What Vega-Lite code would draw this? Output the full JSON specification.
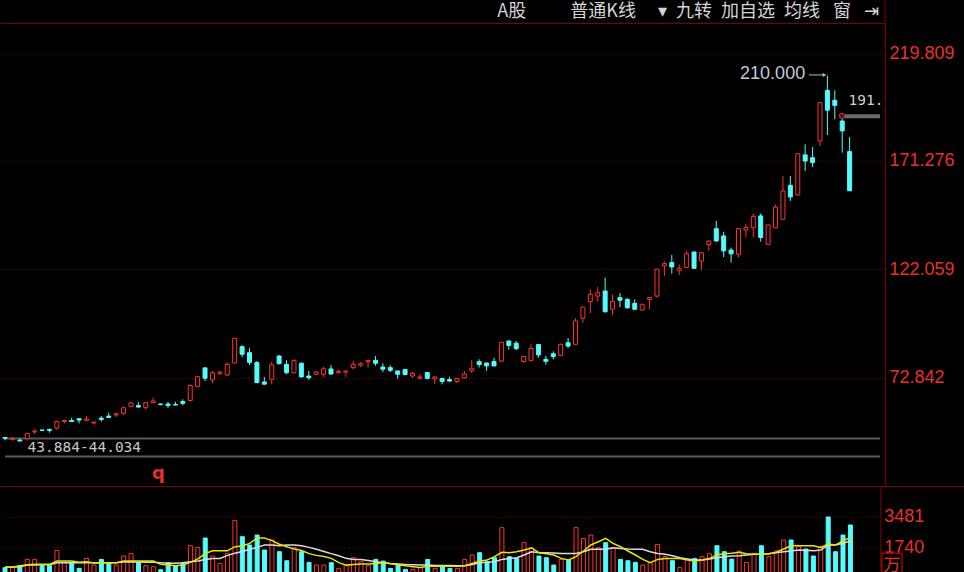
{
  "$schema": "https://vega.github.io/schema/vega-lite/v6.json",
  "background": "#000000",
  "padding": 0,
  "spacing": 0,
  "bounds": "flush",
  "config": {"view": {"stroke": null}, "concat": {"spacing": 0}},
  "datasets": {
    "k": [
      {"i":0,"s":"dn","o":45.7,"h":45.9,"l":44.4,"c":45.3,"v":592,"a":620,"b":630},
      {"i":1,"s":"up","o":44.9,"h":45.9,"l":44.2,"c":45.2,"v":592,"a":620,"b":630},
      {"i":2,"s":"dn","o":44.5,"h":45.3,"l":43.9,"c":44.1,"v":707,"a":700,"b":650},
      {"i":3,"s":"up","o":45.2,"h":47.7,"l":44.9,"c":47.5,"v":1069,"a":760,"b":740},
      {"i":4,"s":"up","o":48.2,"h":49.4,"l":47.4,"c":48.6,"v":1069,"a":783,"b":740},
      {"i":5,"s":"dn","o":49.1,"h":49.2,"l":48.8,"c":48.9,"v":707,"a":783,"b":760},
      {"i":6,"s":"dn","o":49.4,"h":49.5,"l":47.9,"c":48.9,"v":707,"a":783,"b":760},
      {"i":7,"s":"up","o":49.9,"h":53.4,"l":49.3,"c":52.9,"v":1586,"a":977,"b":880},
      {"i":8,"s":"up","o":53.0,"h":53.5,"l":52.1,"c":53.4,"v":897,"a":977,"b":880},
      {"i":9,"s":"dn","o":53.4,"h":54.7,"l":52.8,"c":52.9,"v":897,"a":977,"b":880},
      {"i":10,"s":"dn","o":54.2,"h":54.3,"l":52.1,"c":53.6,"v":552,"a":900,"b":880},
      {"i":11,"s":"up","o":53.5,"h":55.5,"l":53.4,"c":54.1,"v":1126,"a":937,"b":880},
      {"i":12,"s":"up","o":52.3,"h":52.8,"l":51.6,"c":52.7,"v":747,"a":860,"b":880},
      {"i":13,"s":"dn","o":54.5,"h":55.5,"l":52.9,"c":53.9,"v":1069,"a":880,"b":880},
      {"i":14,"s":"dn","o":55.4,"h":57.0,"l":54.7,"c":54.8,"v":880,"a":880,"b":880},
      {"i":15,"s":"up","o":55.9,"h":56.6,"l":55.0,"c":56.5,"v":747,"a":880,"b":880},
      {"i":16,"s":"up","o":56.7,"h":59.7,"l":55.8,"c":59.2,"v":1264,"a":977,"b":920},
      {"i":17,"s":"up","o":59.7,"h":61.5,"l":59.5,"c":61.4,"v":1414,"a":977,"b":937},
      {"i":18,"s":"dn","o":60.2,"h":61.8,"l":59.4,"c":59.5,"v":880,"a":977,"b":920},
      {"i":19,"s":"up","o":59.2,"h":61.6,"l":58.5,"c":61.5,"v":707,"a":977,"b":900},
      {"i":20,"s":"up","o":61.5,"h":63.8,"l":61.4,"c":62.3,"v":649,"a":977,"b":900},
      {"i":21,"s":"dn","o":60.9,"h":61.0,"l":60.3,"c":60.7,"v":477,"a":783,"b":880},
      {"i":22,"s":"dn","o":60.9,"h":61.8,"l":59.0,"c":60.2,"v":880,"a":740,"b":850},
      {"i":23,"s":"dn","o":60.7,"h":61.9,"l":60.3,"c":60.45,"v":707,"a":707,"b":850},
      {"i":24,"s":"dn","o":62.0,"h":63.0,"l":60.3,"c":61.2,"v":880,"a":740,"b":880},
      {"i":25,"s":"up","o":62.5,"h":69.8,"l":62.1,"c":69.3,"v":1856,"a":900,"b":940},
      {"i":26,"s":"up","o":68.9,"h":73.6,"l":68.7,"c":73.3,"v":1758,"a":1100,"b":977},
      {"i":27,"s":"dn","o":77.3,"h":77.5,"l":71.3,"c":72.6,"v":2298,"a":1400,"b":1069},
      {"i":28,"s":"up","o":71.8,"h":75.9,"l":70.4,"c":75.1,"v":1264,"a":1560,"b":1126},
      {"i":29,"s":"up","o":74.7,"h":75.9,"l":74.1,"c":75.4,"v":839,"a":1560,"b":1126},
      {"i":30,"s":"up","o":74.1,"h":79.7,"l":73.6,"c":78.9,"v":1414,"a":1560,"b":1300},
      {"i":31,"s":"up","o":79.5,"h":90.9,"l":79.3,"c":90.7,"v":3310,"a":1800,"b":1420},
      {"i":32,"s":"dn","o":86.9,"h":87.7,"l":82.2,"c":83.5,"v":2373,"a":1840,"b":1520},
      {"i":33,"s":"dn","o":84.2,"h":86.2,"l":78.6,"c":79.8,"v":1896,"a":1990,"b":1650},
      {"i":34,"s":"dn","o":79.7,"h":80.4,"l":70.3,"c":70.6,"v":2471,"a":2300,"b":1760},
      {"i":35,"s":"dn","o":70.9,"h":73.2,"l":69.7,"c":69.9,"v":1609,"a":2300,"b":1890},
      {"i":36,"s":"up","o":72.1,"h":80.0,"l":69.9,"c":78.7,"v":2183,"a":2150,"b":1890},
      {"i":37,"s":"dn","o":82.7,"h":83.2,"l":78.9,"c":79.2,"v":1511,"a":1940,"b":1850},
      {"i":38,"s":"dn","o":78.9,"h":80.7,"l":74.4,"c":75.1,"v":994,"a":1800,"b":1890},
      {"i":39,"s":"up","o":75.1,"h":81.2,"l":74.8,"c":80.7,"v":1741,"a":1660,"b":1890},
      {"i":40,"s":"dn","o":79.4,"h":79.8,"l":72.9,"c":73.2,"v":1511,"a":1580,"b":1850},
      {"i":41,"s":"dn","o":73.6,"h":75.9,"l":71.9,"c":72.8,"v":897,"a":1400,"b":1760},
      {"i":42,"s":"up","o":74.4,"h":75.9,"l":74.1,"c":75.4,"v":747,"a":1300,"b":1650},
      {"i":43,"s":"up","o":74.4,"h":77.7,"l":73.2,"c":76.9,"v":747,"a":1240,"b":1520},
      {"i":44,"s":"dn","o":76.8,"h":78.6,"l":74.3,"c":74.5,"v":880,"a":1130,"b":1400},
      {"i":45,"s":"up","o":75.1,"h":76.5,"l":75.0,"c":75.7,"v":552,"a":880,"b":1280},
      {"i":46,"s":"up","o":75.4,"h":76.0,"l":73.2,"c":75.9,"v":747,"a":740,"b":1130},
      {"i":47,"s":"up","o":77.4,"h":80.4,"l":76.7,"c":78.9,"v":1166,"a":780,"b":1069},
      {"i":48,"s":"up","o":78.5,"h":79.9,"l":77.7,"c":79.2,"v":936,"a":800,"b":1069},
      {"i":49,"s":"up","o":80.1,"h":80.9,"l":77.4,"c":80.7,"v":707,"a":800,"b":1000},
      {"i":50,"s":"dn","o":80.7,"h":82.7,"l":78.2,"c":79.4,"v":1069,"a":840,"b":940},
      {"i":51,"s":"dn","o":77.7,"h":79.4,"l":75.4,"c":76.7,"v":974,"a":870,"b":880},
      {"i":52,"s":"dn","o":77.4,"h":78.5,"l":75.4,"c":76.2,"v":552,"a":820,"b":840},
      {"i":53,"s":"dn","o":75.9,"h":76.0,"l":72.4,"c":74.4,"v":747,"a":760,"b":810},
      {"i":54,"s":"dn","o":76.6,"h":76.8,"l":73.8,"c":74.3,"v":496,"a":700,"b":780},
      {"i":55,"s":"up","o":73.6,"h":75.4,"l":72.8,"c":74.8,"v":496,"a":650,"b":760},
      {"i":56,"s":"up","o":72.6,"h":74.4,"l":72.4,"c":73.2,"v":592,"a":600,"b":740},
      {"i":57,"s":"dn","o":75.2,"h":75.4,"l":72.1,"c":72.5,"v":1069,"a":680,"b":740},
      {"i":58,"s":"up","o":72.4,"h":73.3,"l":69.9,"c":73.2,"v":552,"a":680,"b":720},
      {"i":59,"s":"dn","o":72.5,"h":72.6,"l":69.8,"c":71.1,"v":630,"a":680,"b":720},
      {"i":60,"s":"dn","o":72.0,"h":73.2,"l":71.1,"c":71.3,"v":552,"a":680,"b":720},
      {"i":61,"s":"up","o":71.2,"h":72.6,"l":70.4,"c":72.5,"v":552,"a":680,"b":700},
      {"i":62,"s":"up","o":72.7,"h":75.9,"l":72.5,"c":74.5,"v":1069,"a":700,"b":700},
      {"i":63,"s":"up","o":75.9,"h":80.7,"l":75.1,"c":76.9,"v":1322,"a":840,"b":780},
      {"i":64,"s":"dn","o":80.1,"h":81.2,"l":77.5,"c":78.8,"v":1454,"a":977,"b":880},
      {"i":65,"s":"dn","o":79.5,"h":79.7,"l":75.9,"c":78.2,"v":937,"a":1034,"b":900},
      {"i":66,"s":"dn","o":80.2,"h":81.9,"l":77.9,"c":78.2,"v":1166,"a":1224,"b":937},
      {"i":67,"s":"up","o":80.4,"h":89.1,"l":80.0,"c":88.9,"v":2890,"a":1480,"b":1069},
      {"i":68,"s":"dn","o":89.5,"h":89.7,"l":85.6,"c":87.5,"v":1224,"a":1454,"b":1126},
      {"i":69,"s":"dn","o":88.5,"h":89.5,"l":85.4,"c":86.0,"v":1126,"a":1511,"b":1165},
      {"i":70,"s":"up","o":80.2,"h":82.7,"l":79.7,"c":82.5,"v":2028,"a":1610,"b":1322},
      {"i":71,"s":"up","o":80.7,"h":88.0,"l":80.5,"c":86.1,"v":1701,"a":1741,"b":1511},
      {"i":72,"s":"dn","o":87.9,"h":88.1,"l":81.9,"c":83.2,"v":1264,"a":1454,"b":1454},
      {"i":73,"s":"dn","o":81.2,"h":82.7,"l":78.7,"c":80.3,"v":1166,"a":1396,"b":1454},
      {"i":74,"s":"dn","o":83.7,"h":84.8,"l":81.2,"c":82.4,"v":747,"a":1322,"b":1435},
      {"i":75,"s":"up","o":83.0,"h":88.2,"l":82.8,"c":88.0,"v":1069,"a":1126,"b":1414},
      {"i":76,"s":"dn","o":88.7,"h":90.9,"l":86.3,"c":87.2,"v":1034,"a":1034,"b":1414},
      {"i":77,"s":"up","o":88.0,"h":99.8,"l":87.8,"c":98.6,"v":2890,"a":1224,"b":1414},
      {"i":78,"s":"up","o":99.8,"h":105.1,"l":97.8,"c":104.9,"v":2275,"a":1551,"b":1511},
      {"i":79,"s":"up","o":107.4,"h":113.0,"l":102.1,"c":110.7,"v":2471,"a":1896,"b":1646},
      {"i":80,"s":"up","o":109.9,"h":114.0,"l":107.4,"c":111.4,"v":1741,"a":2086,"b":1646},
      {"i":81,"s":"dn","o":112.2,"h":118.3,"l":102.4,"c":102.8,"v":2028,"a":2275,"b":1646},
      {"i":82,"s":"up","o":103.9,"h":110.7,"l":101.3,"c":107.4,"v":1741,"a":1988,"b":1741},
      {"i":83,"s":"dn","o":109.2,"h":111.3,"l":104.9,"c":108.0,"v":1069,"a":1798,"b":1700},
      {"i":84,"s":"dn","o":108.4,"h":109.0,"l":104.1,"c":104.6,"v":994,"a":1551,"b":1666},
      {"i":85,"s":"dn","o":106.6,"h":108.4,"l":103.6,"c":103.9,"v":897,"a":1322,"b":1646},
      {"i":86,"s":"up","o":103.6,"h":106.4,"l":103.4,"c":106.2,"v":747,"a":1069,"b":1646},
      {"i":87,"s":"up","o":108.4,"h":109.3,"l":103.9,"c":109.2,"v":880,"a":879,"b":1511},
      {"i":88,"s":"up","o":109.9,"h":122.2,"l":109.2,"c":122.1,"v":1931,"a":1069,"b":1414},
      {"i":89,"s":"up","o":123.6,"h":125.5,"l":119.0,"c":124.6,"v":1224,"a":1126,"b":1360},
      {"i":90,"s":"dn","o":125.1,"h":128.6,"l":120.1,"c":123.1,"v":994,"a":1126,"b":1284},
      {"i":91,"s":"up","o":121.6,"h":124.3,"l":119.5,"c":122.5,"v":610,"a":1126,"b":1165},
      {"i":92,"s":"up","o":122.9,"h":130.4,"l":122.7,"c":129.1,"v":1088,"a":1034,"b":1088},
      {"i":93,"s":"dn","o":129.9,"h":130.1,"l":122.3,"c":122.5,"v":1126,"a":977,"b":1034},
      {"i":94,"s":"up","o":125.8,"h":129.8,"l":121.6,"c":129.6,"v":1224,"a":1034,"b":1034},
      {"i":95,"s":"up","o":133.3,"h":135.1,"l":130.4,"c":134.9,"v":1396,"a":1126,"b":1088},
      {"i":96,"s":"dn","o":140.5,"h":144.0,"l":134.6,"c":134.9,"v":1856,"a":1322,"b":1165},
      {"i":97,"s":"dn","o":137.2,"h":139.1,"l":127.6,"c":130.4,"v":1511,"a":1396,"b":1224},
      {"i":98,"s":"dn","o":130.8,"h":131.9,"l":125.1,"c":129.1,"v":1088,"a":1420,"b":1264},
      {"i":99,"s":"up","o":128.9,"h":140.7,"l":127.6,"c":140.5,"v":1551,"a":1480,"b":1284},
      {"i":100,"s":"up","o":139.9,"h":142.8,"l":136.5,"c":141.0,"v":897,"a":1396,"b":1322},
      {"i":101,"s":"up","o":140.9,"h":147.4,"l":136.6,"c":146.1,"v":1414,"a":1360,"b":1360},
      {"i":102,"s":"dn","o":146.3,"h":147.4,"l":134.6,"c":136.5,"v":1856,"a":1360,"b":1380},
      {"i":103,"s":"up","o":133.4,"h":142.4,"l":133.2,"c":142.2,"v":1224,"a":1396,"b":1396},
      {"i":104,"s":"up","o":140.9,"h":151.3,"l":140.7,"c":150.3,"v":1551,"a":1480,"b":1454},
      {"i":105,"s":"up","o":144.8,"h":164.4,"l":144.5,"c":157.6,"v":2183,"a":1666,"b":1511},
      {"i":106,"s":"dn","o":160.2,"h":164.4,"l":153.1,"c":154.9,"v":2183,"a":1856,"b":1551},
      {"i":107,"s":"up","o":155.8,"h":174.7,"l":155.6,"c":174.5,"v":1798,"a":1856,"b":1610},
      {"i":108,"s":"dn","o":174.0,"h":178.8,"l":166.7,"c":171.2,"v":1666,"a":1856,"b":1590},
      {"i":109,"s":"dn","o":172.7,"h":177.6,"l":168.5,"c":170.5,"v":1264,"a":1856,"b":1570},
      {"i":110,"s":"up","o":180.3,"h":197.9,"l":178.0,"c":197.7,"v":1798,"a":1760,"b":1610},
      {"i":111,"s":"dn","o":203.3,"h":210.0,"l":183.0,"c":194.3,"v":3505,"a":1950,"b":1896},
      {"i":112,"s":"dn","o":198.8,"h":203.3,"l":190.2,"c":196.5,"v":1511,"a":1896,"b":1896},
      {"i":113,"s":"dn","o":189.4,"h":192.7,"l":175.0,"c":184.9,"v":2471,"a":2126,"b":1988},
      {"i":114,"s":"dn","o":175.5,"h":182.1,"l":157.6,"c":157.7,"v":3045,"a":2333,"b":2140}
    ]
  },
  "vconcat": [
    {
      "width": 885,
      "height": 22,
      "layer": [
        {
          "data": {"values": [{"t": "A股\u3000\u3000\u00a0\u00a0普通K线\u3000\u00a0▾\u2002九转\u2002加自选\u2002均线\u2002\u00a0窗\u2002\u00a0⇥"}]},
          "mark": {"type": "text", "align": "right", "baseline": "bottom", "dx": -6, "dy": -2, "color": "#d4d4d4", "font": "Noto Sans CJK SC", "fontSize": 18},
          "encoding": {"text": {"field": "t"}, "x": {"value": "width"}, "y": {"value": "height"}}
        },
        {
          "data": {"values": [{}]},
          "mark": {"type": "rule", "color": "#800000", "strokeWidth": 1},
          "encoding": {"x": {"value": "width"}}
        }
      ]
    },
    {
      "width": 885,
      "height": 463,
      "layer": [
        {
          "data": {"values": [{"p": 45.24}, {"p": 37.06}]},
          "mark": {"type": "rule", "color": "#5a5a5a", "strokeWidth": 2},
          "encoding": {
            "x": {"datum": 0, "type": "quantitative", "scale": {"domain": [0, 118.1], "nice": false, "zero": false},
                  "axis": {"orient": "top", "domain": true, "domainColor": "#800000", "domainWidth": 1, "ticks": false, "labels": false, "grid": false, "title": null, "minExtent": 0, "maxExtent": 0}},
            "x2": {"datum": 118.1},
            "y": {"field": "p", "type": "quantitative", "scale": {"domain": [23.67, 233.88], "nice": false, "zero": false},
                  "axis": {"orient": "right", "values": [72.842, 122.059, 171.276, 219.809], "format": ".3f", "grid": true, "gridDash": [1, 3], "gridColor": "#9a0000", "ticks": false, "domain": true, "domainColor": "#800000", "labelColor": "#e8302a", "labelFont": "Liberation Sans", "labelFontSize": 18, "labelPadding": 4, "labelOverlap": false, "minExtent": 79, "maxExtent": 79, "title": null}}
          }
        },
        {
          "data": {"name": "k"},
          "mark": {"type": "rule", "strokeWidth": 1, "clip": true},
          "encoding": {
            "x": {"field": "i", "type": "quantitative", "scale": {"domain": [0, 118.1], "nice": false, "zero": false}},
            "y": {"field": "l", "type": "quantitative", "scale": {"domain": [23.67, 233.88], "nice": false, "zero": false}},
            "y2": {"field": "h"},
            "color": {"field": "s", "type": "nominal", "scale": {"domain": ["up", "dn"], "range": ["#ff3232", "#54fcfc"]}, "legend": null}
          }
        },
        {
          "data": {"name": "k"},
          "mark": {"type": "bar", "width": 4, "strokeWidth": 1, "clip": true},
          "encoding": {
            "x": {"field": "i", "type": "quantitative", "scale": {"domain": [0, 118.1], "nice": false, "zero": false}},
            "y": {"field": "o", "type": "quantitative", "scale": {"domain": [23.67, 233.88], "nice": false, "zero": false}},
            "y2": {"field": "c"},
            "fill": {"field": "s", "type": "nominal", "scale": {"domain": ["up", "dn"], "range": ["#000000", "#54fcfc"]}, "legend": null},
            "stroke": {"field": "s", "type": "nominal", "scale": {"domain": ["up", "dn"], "range": ["#ff3232", "#54fcfc"]}, "legend": null}
          }
        },
        {
          "data": {"values": [{"i1": 108.5, "i2": 110.5, "p": 210.3}]},
          "mark": {"type": "rule", "color": "#b8b8c8", "strokeWidth": 1},
          "encoding": {
            "x": {"field": "i1", "type": "quantitative"},
            "x2": {"field": "i2"},
            "y": {"field": "p", "type": "quantitative"}
          }
        },
        {
          "data": {"values": [{"i": 110.6, "p": 210.3}]},
          "mark": {"type": "point", "shape": "triangle-right", "filled": true, "color": "#b8b8c8", "size": 18, "opacity": 1},
          "encoding": {
            "x": {"field": "i", "type": "quantitative"},
            "y": {"field": "p", "type": "quantitative"}
          }
        },
        {
          "data": {"values": [{"i": 108.0, "p": 210.6, "t": "210.000"}]},
          "mark": {"type": "text", "align": "right", "baseline": "middle", "color": "#c4c8d4", "font": "Liberation Sans", "fontSize": 18},
          "encoding": {
            "x": {"field": "i", "type": "quantitative"},
            "y": {"field": "p", "type": "quantitative"},
            "text": {"field": "t"}
          }
        },
        {
          "data": {"values": [{"i1": 113.3, "i2": 118.1, "p": 191.5}]},
          "mark": {"type": "rule", "color": "#6a6a6a", "strokeWidth": 4},
          "encoding": {
            "x": {"field": "i1", "type": "quantitative"},
            "x2": {"field": "i2"},
            "y": {"field": "p", "type": "quantitative"}
          }
        },
        {
          "data": {"values": [{"i": 112.95, "p": 191.7}]},
          "mark": {"type": "point", "shape": "circle", "filled": true, "fill": "#5a1010", "stroke": "#d03030", "strokeWidth": 1, "size": 28, "opacity": 1},
          "encoding": {
            "x": {"field": "i", "type": "quantitative"},
            "y": {"field": "p", "type": "quantitative"}
          }
        },
        {
          "data": {"values": [{"i": 113.85, "p": 198.4, "t": "191."}]},
          "mark": {"type": "text", "align": "left", "baseline": "middle", "color": "#d0d0d0", "font": "DejaVu Sans Mono", "fontSize": 14.5},
          "encoding": {
            "x": {"field": "i", "type": "quantitative"},
            "y": {"field": "p", "type": "quantitative"},
            "text": {"field": "t"}
          }
        },
        {
          "data": {"values": [{"i": 3.05, "p": 40.95, "t": "43.884-44.034"}]},
          "mark": {"type": "text", "align": "left", "baseline": "middle", "color": "#c8c8c8", "font": "DejaVu Sans Mono", "fontSize": 14.5},
          "encoding": {
            "x": {"field": "i", "type": "quantitative"},
            "y": {"field": "p", "type": "quantitative"},
            "text": {"field": "t"}
          }
        },
        {
          "data": {"values": [{"i": 20.7, "p": 29.3, "t": "q"}]},
          "mark": {"type": "text", "align": "center", "baseline": "middle", "color": "#e8302a", "font": "DejaVu Sans", "fontWeight": "bold", "fontSize": 18},
          "encoding": {
            "x": {"field": "i", "type": "quantitative"},
            "y": {"field": "p", "type": "quantitative"},
            "text": {"field": "t"}
          }
        }
      ]
    },
    {
      "width": 964,
      "height": 92,
      "layer": [
        {
          "data": {"values": [{"g": 1740}, {"g": 3481}]},
          "mark": {"type": "rule", "color": "#9a0000", "strokeWidth": 1, "strokeDash": [1, 3]},
          "encoding": {
            "x": {"datum": 0, "type": "quantitative", "scale": {"domain": [0, 128.64], "nice": false, "zero": false},
                  "axis": {"orient": "top", "domain": true, "domainColor": "#800000", "ticks": false, "labels": false, "grid": false, "title": null, "minExtent": 0, "maxExtent": 0}},
            "x2": {"datum": 118.1},
            "y": {"field": "g", "type": "quantitative", "scale": {"domain": [0, 5286], "nice": false, "zero": true}, "axis": null}
          }
        },
        {
          "data": {"name": "k"},
          "mark": {"type": "bar", "width": 4, "strokeWidth": 1, "clip": true},
          "encoding": {
            "x": {"field": "i", "type": "quantitative"},
            "y": {"field": "v", "type": "quantitative"},
            "fill": {"field": "s", "type": "nominal", "scale": {"domain": ["up", "dn"], "range": ["#000000", "#54fcfc"]}, "legend": null},
            "stroke": {"field": "s", "type": "nominal", "scale": {"domain": ["up", "dn"], "range": ["#ff3232", "#54fcfc"]}, "legend": null}
          }
        },
        {
          "data": {"name": "k"},
          "mark": {"type": "line", "color": "#dcdcdc", "strokeWidth": 1.5, "clip": true},
          "encoding": {
            "x": {"field": "i", "type": "quantitative"},
            "y": {"field": "b", "type": "quantitative"}
          }
        },
        {
          "data": {"name": "k"},
          "mark": {"type": "line", "color": "#e6e600", "strokeWidth": 1.5, "clip": true},
          "encoding": {
            "x": {"field": "i", "type": "quantitative"},
            "y": {"field": "a", "type": "quantitative"}
          }
        },
        {
          "data": {"values": [{}]},
          "mark": {"type": "rule", "color": "#800000", "strokeWidth": 1},
          "encoding": {"x": {"datum": 118.1, "type": "quantitative"}}
        },
        {
          "data": {"values": [{"g": 1740, "t": "1740"}, {"g": 3481, "t": "3481"}]},
          "mark": {"type": "text", "align": "left", "baseline": "middle", "color": "#e8302a", "font": "Liberation Sans", "fontSize": 18},
          "encoding": {
            "x": {"datum": 118.55, "type": "quantitative"},
            "y": {"field": "g", "type": "quantitative"},
            "text": {"field": "t"}
          }
        },
        {
          "data": {"values": [{"x1": 118.23, "x2": 120.95, "y1": 0, "y2": 1419}]},
          "mark": {"type": "rect", "fill": null, "fillOpacity": 0, "stroke": "#a00000", "strokeWidth": 1.5},
          "encoding": {
            "x": {"field": "x1", "type": "quantitative"},
            "x2": {"field": "x2"},
            "y": {"field": "y1", "type": "quantitative"},
            "y2": {"field": "y2"}
          }
        },
        {
          "data": {"values": [{"xi": 119.6, "g": 700, "t": "万"}]},
          "mark": {"type": "text", "align": "center", "baseline": "middle", "color": "#e8302a", "font": "Noto Sans CJK SC", "fontSize": 17},
          "encoding": {
            "x": {"field": "xi", "type": "quantitative"},
            "y": {"field": "g", "type": "quantitative"},
            "text": {"field": "t"}
          }
        }
      ]
    }
  ]
}
